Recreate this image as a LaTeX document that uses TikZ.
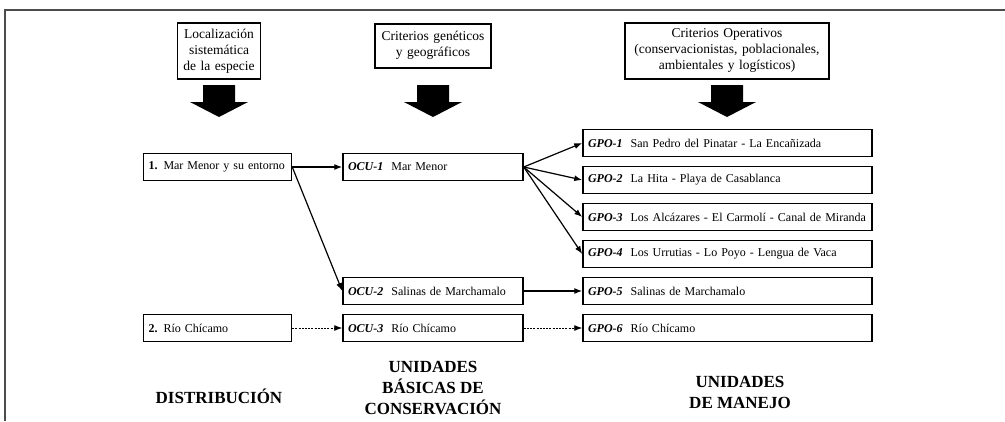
\documentclass[tikz,border=0pt]{standalone}
\usepackage{fontspec}
\setmainfont{Liberation Serif}
\usetikzlibrary{arrows.meta, positioning, calc}
\tikzset{
    unitFlow/.style={-{Latex[length=8pt, width=6pt]}, line width=1.2pt},
    unitFlowThin/.style={unitFlow, line width=0.9pt, dash pattern=on 2pt off 1.2pt},
}

\begin{document}
\begin{tikzpicture}[
    x=1pt, y=-1pt,
    crit_box/.style={
        draw=black,
        line width=1.5pt,
        align=center,
        inner sep=2pt,
        font=\fontsize{13.5}{16}\selectfont
    },
    unit_box/.style={
        draw=black,
        line width=1.5pt,
        minimum height=27pt,
        inner xsep=5pt,
        text width=#1,
        align=left,
        font=\fontsize{12}{14}\selectfont
    },
    col_title/.style={
        align=center,
        font=\bfseries\fontsize{17}{21}\selectfont
    },
    big_arrow/.style={
        fill=black
    }
]
    \useasboundingbox (0,0) rectangle (1005,421);

    % Frame
    \draw[gray!60!black, line width=1.6pt] (5,421) -- (5,10) -- (1005,10);

    % Criteria Layer
    \node[crit_box, anchor=north, minimum height=56pt, text width=79pt] (loc) at (219, 22) {
        Localización\\sistemática\\de la especie};
    \node[crit_box, anchor=north, minimum height=44pt, text width=112pt] (gen) at (433, 23) {
        Criterios genéticos\\y geográficos};
    \node[crit_box, anchor=north, minimum height=56pt, text width=200pt] (ope) at (727, 22) {
        Criterios Operativos\\(conservacionistas, poblacionales,\\ambientales y logísticos)};

    \foreach \b in {loc, gen, ope} {
        \coordinate (\b top) at (\b.south |- 0,85);
        \fill[big_arrow] ($(\b top)+(-16,0)$) -- ++(32,0) -- ++(0,17) -- ++(13,0)
            -- ($(\b top)+(0,32)$) -- ($(\b top)+(-29,17)$) -- ++(13,0) -- cycle;
    }

    % Distribution Layer
    \node[unit_box=138pt] (d1) at (217.5, 167) {\textbf{1.} Mar Menor y su entorno};
    \node[unit_box=138pt] (d2) at (217.5, 328) {\textbf{2.} Río Chícamo};

    % Conservation Units
    \node[unit_box=170pt] (ocu1) at (433, 167) {\textbf{\textit{OCU-1}}\ \ Mar Menor};
    \node[unit_box=170pt] (ocu2) at (433, 291) {\textbf{\textit{OCU-2}}\ \ Salinas de Marchamalo};
    \node[unit_box=170pt] (ocu3) at (433, 328) {\textbf{\textit{OCU-3}}\ \ Río Chícamo};

    % Management Units
    \node[unit_box=279pt] (gpo1) at (727.5, 143) {\textbf{\textit{GPO-1}}\ \ San Pedro del Pinatar - La Encañizada};
    \node[unit_box=279pt] (gpo2) at (727.5, 180) {\textbf{\textit{GPO-2}}\ \ La Hita - Playa de Casablanca};
    \node[unit_box=279pt] (gpo3) at (727.5, 217) {\textbf{\textit{GPO-3}}\ \ Los Alcázares - El Carmolí - Canal de Miranda};
    \node[unit_box=279pt] (gpo4) at (727.5, 254) {\textbf{\textit{GPO-4}}\ \ Los Urrutias - Lo Poyo - Lengua de Vaca};
    \node[unit_box=279pt] (gpo5) at (727.5, 291) {\textbf{\textit{GPO-5}}\ \ Salinas de Marchamalo};
    \node[unit_box=279pt] (gpo6) at (727.5, 328) {\textbf{\textit{GPO-6}}\ \ Río Chícamo};

    % Flows
    \draw[unitFlow] (d1.east) -- (ocu1.west);
    \draw[unitFlow] (d1.east) -- (ocu2.west);
    \foreach \g in {gpo1, gpo2, gpo3, gpo4} {
        \draw[unitFlow] (ocu1.east) -- (\g.west);
    }
    \draw[unitFlow] (ocu2.east) -- (gpo5.west);
    \draw[unitFlowThin] (d2.east) -- (ocu3.west);
    \draw[unitFlowThin] (ocu3.east) -- (gpo6.west);

    % Column titles
    \node[col_title] (tdist) at (219, 396) {DISTRIBUCIÓN};
    \node[col_title] (tocu) at (433, 388) {UNIDADES\\BÁSICAS DE\\CONSERVACIÓN};
    \node[col_title] (tgpo) at (740, 392) {UNIDADES\\DE MANEJO};
\end{tikzpicture}
\end{document}
